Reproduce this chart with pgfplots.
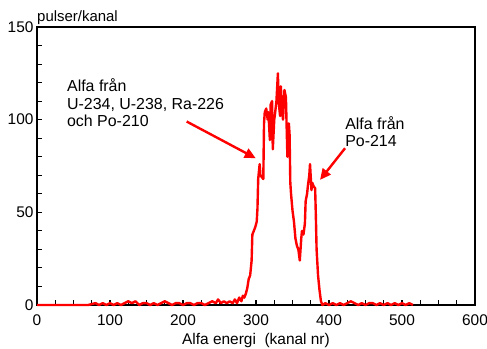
\documentclass[border=0pt]{standalone}
\usepackage{pgfplots}
\pgfplotsset{compat=1.18}
\usepackage{fontspec}
\setmainfont{Liberation Sans}
\usetikzlibrary{arrows.meta}
\begin{document}
\begin{tikzpicture}
\useasboundingbox (-37bp,-44bp) rectangle (450bp,305bp);
\begin{axis}[
  scale only axis, width=438bp, height=278bp,
  xmin=0, xmax=600, ymin=0, ymax=150,
  axis line style={line width=1.6bp},
  xtick={0,100,...,600}, ytick={0,50,100,150},
  minor xtick={25,50,75,125,150,175,225,250,275,325,350,375,425,450,475,525,550,575},
  minor ytick={10,20,30,40,60,70,80,90,110,120,130,140},
  tick align=inside, xtick pos=bottom, ytick pos=left,
  major tick length=5bp, minor tick length=5bp,
  tick style={line width=1.1bp, black},
  /pgf/number format/assume math mode=true,
  ticklabel style={font=\fontsize{15.5}{18}\selectfont},
  xticklabel style={yshift=-6bp},
  xlabel={Alfa energi\ \ (kanal nr)},
  xlabel style={font=\fontsize{15.5}{18}\selectfont, yshift=-1bp},
  clip=false,
]
\addplot[red, line width=2.4bp, line join=round] coordinates {
(0,0) (10,0) (20,0) (30,0) (40,0) (50,0) (60,0) (70,0) (80,1) (85,0) (90,1) (95,0) (100,1) (105,0) (110,1) (115,0) (120,1) (125,2) (130,1) (135,2) (140,0) (145,1) (150,1) (155,0) (160,1) (165,0) (170,1) (175,2) (180,1) (185,0) (190,1) (195,1) (200,0) (205,1) (210,1) (215,0) (220,1) (225,1) (230,0) (235,1) (240,2) (245,1) (248,3) (252,1) (256,2) (260,1) (264,2) (268,1) (271,3) (274,1) (277,4) (280,2) (282,5) (284,4) (286,6) (288,9) (290,14) (292,16) (294,24) (295,38) (297,40) (299,42) (301,45) (302,52) (303,68) (305,76) (306,70) (308,69) (310,68) (311,98) (312,104) (314,106) (316,100) (317,104) (319,89) (320,108) (322,110) (323,84) (325,100) (326,103) (328,110) (330,125) (331,110) (333,102) (334,118) (336,104) (337,100) (339,116) (341,112) (342,96) (343,80) (345,98) (346,92) (347,66) (348,60) (350,51) (352,45) (354,36) (356,32) (358,30) (360,24) (362,36) (363,40) (365,38) (367,44) (368,56) (370,60) (371,64) (373,70) (374,76) (376,62) (377,66) (379,64) (381,63) (382,48) (383,30) (385,16) (387,8) (389,2) (391,0) (395,1) (400,0) (405,1) (410,0) (415,1) (420,0) (425,1) (430,2) (435,1) (440,0) (445,1) (450,0) (455,1) (460,1) (465,0) (470,1) (475,0) (480,1) (485,0) (490,1) (495,0) (500,1) (505,0) (510,1) (515,0)
};
\draw[red, line width=2.4bp, -{Triangle[length=11bp,width=10bp]}] (axis cs:205,99) -- (axis cs:299.6,79.2);
\draw[red, line width=2.4bp, -{Triangle[length=11bp,width=10bp]}] (axis cs:422,84.6) -- (axis cs:387.7,67.5);
\node[anchor=north west, align=left, inner sep=0pt, font=\fontsize{16}{17.5}\selectfont] at (axis cs:41,122) {Alfa från\\U-234, U-238, Ra-226\\och Po-210};
\node[anchor=north west, align=left, inner sep=0pt, font=\fontsize{16}{17.5}\selectfont] at (axis cs:422,102) {Alfa från\\Po-214};
\node[anchor=base west, inner sep=0pt, font=\fontsize{15}{17}\selectfont] at ([yshift=5bp]rel axis cs:0,1) {pulser/kanal};
\end{axis}
\end{tikzpicture}
\end{document}
